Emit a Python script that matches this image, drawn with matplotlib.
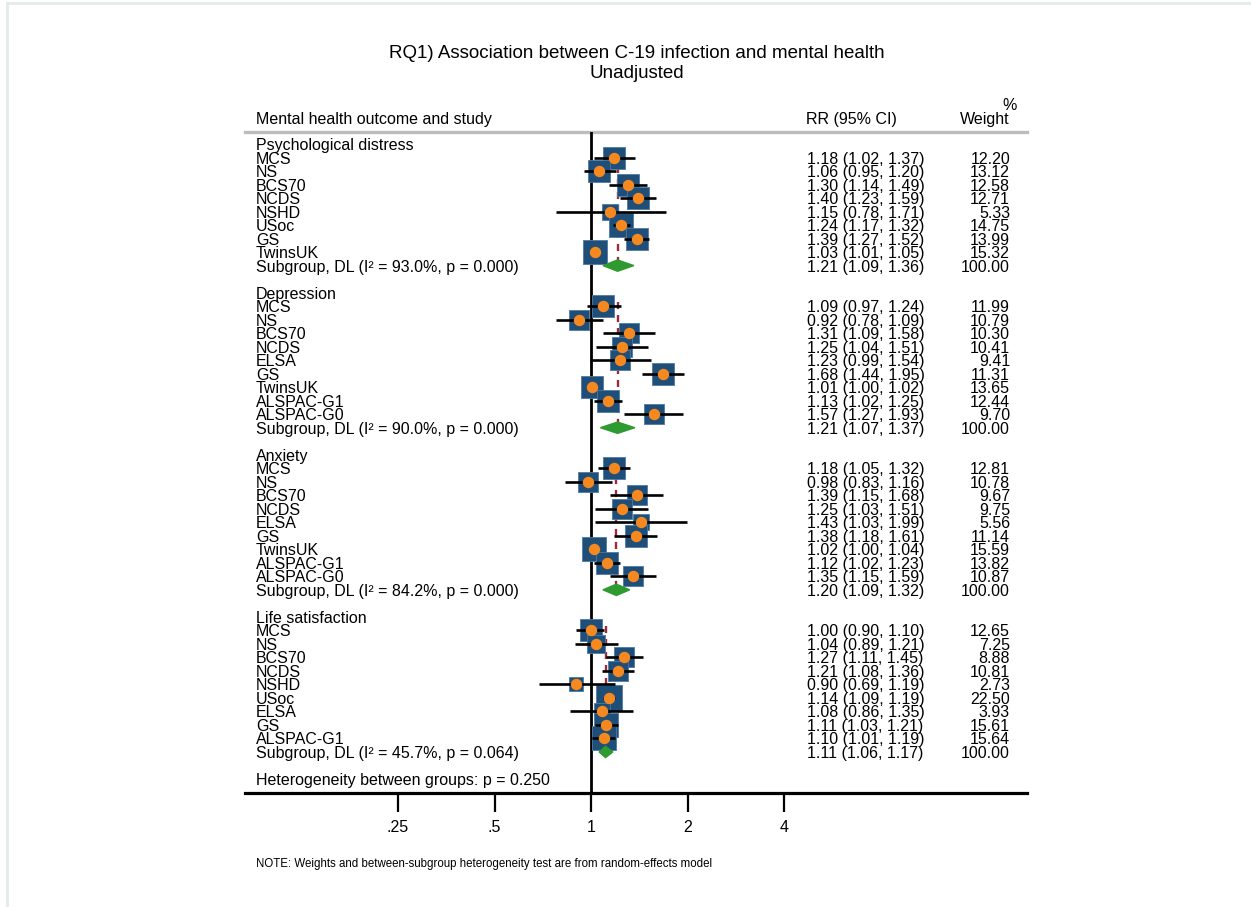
import numpy as np
import matplotlib.pyplot as plt
from matplotlib import transforms
from matplotlib.patches import Polygon
from matplotlib.lines import Line2D

plt.rcParams["font.family"] = ["Liberation Sans", "DejaVu Sans"]

#  Study estimates per outcome
# ****************************
distress_study = ["MCS", "NS", "BCS70", "NCDS", "NSHD", "USoc", "GS", "TwinsUK"]
distress_rr = [1.18, 1.06, 1.30, 1.40, 1.15, 1.24, 1.39, 1.03]
distress_lo = [1.02, 0.95, 1.14, 1.23, 0.78, 1.17, 1.27, 1.01]
distress_hi = [1.37, 1.20, 1.49, 1.59, 1.71, 1.32, 1.52, 1.05]
distress_wt = [12.20, 13.12, 12.58, 12.71, 5.33, 14.75, 13.99, 15.32]

depress_study = ["MCS", "NS", "BCS70", "NCDS", "ELSA", "GS", "TwinsUK", "ALSPAC-G1", "ALSPAC-G0"]
depress_rr = [1.09, 0.92, 1.31, 1.25, 1.23, 1.68, 1.01, 1.13, 1.57]
depress_lo = [0.97, 0.78, 1.09, 1.04, 0.99, 1.44, 1.00, 1.02, 1.27]
depress_hi = [1.24, 1.09, 1.58, 1.51, 1.54, 1.95, 1.02, 1.25, 1.93]
depress_wt = [11.99, 10.79, 10.30, 10.41, 9.41, 11.31, 13.65, 12.44, 9.70]

anx_study = ["MCS", "NS", "BCS70", "NCDS", "ELSA", "GS", "TwinsUK", "ALSPAC-G1", "ALSPAC-G0"]
anx_rr = [1.18, 0.98, 1.39, 1.25, 1.43, 1.38, 1.02, 1.12, 1.35]
anx_lo = [1.05, 0.83, 1.15, 1.03, 1.03, 1.18, 1.00, 1.02, 1.15]
anx_hi = [1.32, 1.16, 1.68, 1.51, 1.99, 1.61, 1.04, 1.23, 1.59]
anx_wt = [12.81, 10.78, 9.67, 9.75, 5.56, 11.14, 15.59, 13.82, 10.87]

life_study = ["MCS", "NS", "BCS70", "NCDS", "NSHD", "USoc", "ELSA", "GS", "ALSPAC-G1"]
life_rr = [1.00, 1.04, 1.27, 1.21, 0.90, 1.14, 1.08, 1.11, 1.10]
life_lo = [0.90, 0.89, 1.11, 1.08, 0.69, 1.09, 0.86, 1.03, 1.01]
life_hi = [1.10, 1.21, 1.45, 1.36, 1.19, 1.19, 1.35, 1.21, 1.19]
life_wt = [12.65, 7.25, 8.88, 10.81, 2.73, 22.50, 3.93, 15.61, 15.64]

#  Pooled (DerSimonian-Laird) results per outcome
outcomes = ["Psychological distress", "Depression", "Anxiety", "Life satisfaction"]
pool_rr = [1.21, 1.21, 1.20, 1.11]
pool_lo = [1.09, 1.07, 1.09, 1.06]
pool_hi = [1.36, 1.37, 1.32, 1.17]
pool_i2 = [93.0, 90.0, 84.2, 45.7]
pool_p = [0.000, 0.000, 0.000, 0.064]
het_p = 0.250

x_ticks = [0.25, 0.5, 1, 2, 4]
x_ticklabels = [".25", ".5", "1", "2", "4"]

studies = [
    (distress_study, distress_rr, distress_lo, distress_hi, distress_wt),
    (depress_study, depress_rr, depress_lo, depress_hi, depress_wt),
    (anx_study, anx_rr, anx_lo, anx_hi, anx_wt),
    (life_study, life_rr, life_lo, life_hi, life_wt),
]

#  Colours
box_col = "#1f4e79"
box_edge = "#4d7aa3"
dot_col = "#f5891f"
diam_col = "#2f9a2f"
pool_line_col = "#9e2a38"

W, H = 1251, 907
fig = plt.figure(figsize=(W / 100, H / 100), dpi=100)

# axes in pixel terms: left 245, right 1027, top 132, bottom 793
ax_l, ax_r, ax_t, ax_b = 245, 1027, 132, 793
ax = fig.add_axes([ax_l / W, 1 - ax_b / H, (ax_r - ax_l) / W, (ax_b - ax_t) / H])
ax.set_xscale("log")
px_per_double = 96.5
x_one = 591
ax.set_xlim(2 ** ((ax_l - x_one) / px_per_double), 2 ** ((ax_r - x_one) / px_per_double))
row0, pitch = 144, 13.51
ax.set_ylim((ax_b - row0) / pitch, (ax_t - row0) / pitch)

for s in ["top", "left", "right"]:
    ax.spines[s].set_visible(False)
ax.spines["bottom"].set_linewidth(2.3)
ax.set_yticks([])
ax.set_xticks(x_ticks)
ax.set_xticklabels(x_ticklabels, fontsize=11.5)
ax.xaxis.set_minor_locator(plt.NullLocator())
ax.tick_params(axis="x", length=13.5, width=1.6, pad=6)

# header rule
ax.axhline((ax_t - row0) / pitch, color="#bdbdbd", lw=2.4, clip_on=False, zorder=1)
# null line
ax.axvline(1, color="black", lw=2.0, zorder=1.5)

tr = transforms.blended_transform_factory(fig.transFigure, ax.transData)
fs = 11.5
lab_x = 256 / W
rr_x = 807 / W
wt_x = 1010 / W


def side_pts(w):
    return (7 + 4.2 * np.sqrt(w)) * 0.72


row = 0
for g, (name, rr, lo, hi, wt) in enumerate(studies):
    ax.text(lab_x, row, outcomes[g], transform=tr, fontsize=fs, va="center_baseline")
    first = row + 1
    for i in range(len(name)):
        y = first + i
        ax.text(lab_x, y, name[i], transform=tr, fontsize=fs, va="center_baseline")
        ax.text(rr_x, y, "%.2f (%.2f, %.2f)" % (rr[i], lo[i], hi[i]), transform=tr,
                fontsize=fs, va="center_baseline")
        ax.text(wt_x, y, "%.2f" % wt[i], transform=tr, fontsize=fs, va="center_baseline", ha="right")
        ax.scatter([rr[i]], [y], marker="s", s=side_pts(wt[i]) ** 2, color=box_col,
                   edgecolors=box_edge, linewidths=0.6, zorder=2)
        ax.plot([lo[i], hi[i]], [y, y], color="black", lw=1.9, zorder=3, solid_capstyle="butt")
        ax.plot([rr[i]], [y], "o", ms=8.2, color=dot_col, mec="none", zorder=4)
    sub = first + len(name)
    # pooled estimate: dashed line and diamond
    ax.plot([pool_rr[g], pool_rr[g]], [first - 0.3, sub], color=pool_line_col, lw=1.7,
            ls=(0, (3, 2.5)), zorder=1)
    diamond = Polygon([[pool_lo[g], sub], [pool_rr[g], sub - 0.42], [pool_hi[g], sub],
                       [pool_rr[g], sub + 0.42]], closed=True, color=diam_col, zorder=3)
    ax.add_patch(diamond)
    ax.text(lab_x, sub, "Subgroup, DL (I\u00b2 = %.1f%%, p = %.3f)" % (pool_i2[g], pool_p[g]),
            transform=tr, fontsize=fs, va="center_baseline")
    ax.text(rr_x, sub, "%.2f (%.2f, %.2f)" % (pool_rr[g], pool_lo[g], pool_hi[g]), transform=tr,
            fontsize=fs, va="center_baseline")
    ax.text(wt_x, sub, "100.00", transform=tr, fontsize=fs, va="center_baseline", ha="right")
    row = sub + 2

ax.text(lab_x, row, "Heterogeneity between groups: p = %.3f" % het_p, transform=tr,
        fontsize=fs, va="center_baseline")

# column headers and titles
fig.text(lab_x, 1 - 118 / H, "Mental health outcome and study", fontsize=fs, va="center_baseline")
fig.text(851 / W, 1 - 118 / H, "RR (95% CI)", fontsize=fs, va="center_baseline", ha="center")
fig.text(wt_x, 1 - 118 / H, "Weight", fontsize=fs, va="center_baseline", ha="right")
fig.text(1010 / W, 1 - 104 / H, "%", fontsize=fs, va="center_baseline", ha="center")
fig.text(637 / W, 1 - 52 / H, "RQ1) Association between C-19 infection and mental health",
         fontsize=13.5, ha="center", va="center_baseline")
fig.text(637 / W, 1 - 72 / H, "Unadjusted", fontsize=13.5, ha="center", va="center_baseline")
fig.text(lab_x, 1 - 862 / H,
         "NOTE: Weights and between-subgroup heterogeneity test are from random-effects model",
         fontsize=8.3, va="center_baseline")

# window frame
fig.add_artist(Line2D([7 / W, 7 / W], [0, 1 - 3 / H], color="#e4ebeb", lw=2))
fig.add_artist(Line2D([7 / W, 1], [1 - 3 / H, 1 - 3 / H], color="#e4ebeb", lw=2))

fig.savefig("out.png", dpi=100)
